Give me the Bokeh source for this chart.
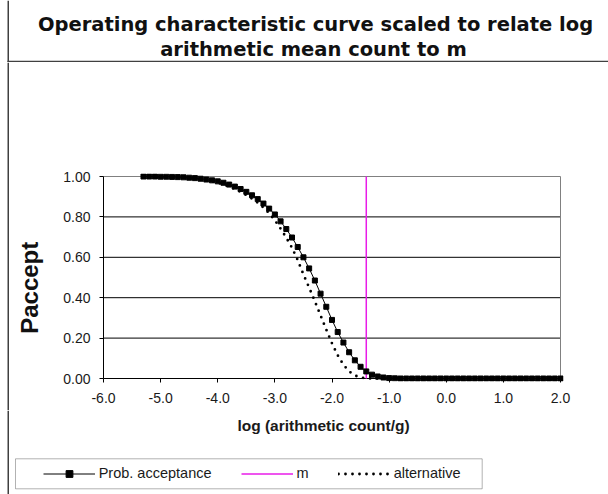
import math
from bokeh.plotting import figure
from bokeh.layouts import column, row
from bokeh.models import (Range1d, FixedTicker, NumeralTickFormatter, Label,
                          Legend, LegendItem, BoxAnnotation)
from bokeh.embed import file_html
from bokeh.resources import INLINE

# ---------------- data ----------------
TITLE_LINES = ["Operating characteristic curve scaled to relate log",
               "arithmetic mean count to m"]
X_LABEL = "log (arithmetic count/g)"
Y_LABEL = "Paccept"
X_TICKS = [-6.0, -5.0, -4.0, -3.0, -2.0, -1.0, 0.0, 1.0, 2.0]
Y_TICKS = [0.0, 0.2, 0.4, 0.6, 0.8, 1.0]
SERIES_NAMES = ["Prob. acceptance", "m", "alternative"]

log_count = [-5.3, -5.2, -5.1, -5.0, -4.9, -4.8, -4.7, -4.6, -4.5, -4.4,
             -4.3, -4.2, -4.1, -4.0, -3.9, -3.8, -3.7, -3.6, -3.5, -3.4,
             -3.3, -3.2, -3.1, -3.0, -2.9, -2.8, -2.7, -2.6, -2.5, -2.4,
             -2.3, -2.2, -2.1, -2.0, -1.9, -1.8, -1.7, -1.6, -1.5, -1.4,
             -1.3, -1.2, -1.1, -1.0, -0.9, -0.8, -0.7, -0.6, -0.5, -0.4,
             -0.3, -0.2, -0.1, 0.0, 0.1, 0.2, 0.3, 0.4, 0.5, 0.6,
             0.7, 0.8, 0.9, 1.0, 1.1, 1.2, 1.3, 1.4, 1.5, 1.6,
             1.7, 1.8, 1.9, 2.0]

p_accept = [1.000, 1.000, 1.000, 0.999, 0.999, 0.998, 0.997, 0.996, 0.994, 0.992,
            0.989, 0.985, 0.981, 0.976, 0.969, 0.960, 0.950, 0.938, 0.924, 0.907,
            0.888, 0.866, 0.841, 0.812, 0.778, 0.740, 0.698, 0.651, 0.600, 0.545,
            0.485, 0.420, 0.355, 0.290, 0.230, 0.178, 0.130, 0.090, 0.058, 0.035,
            0.019, 0.010, 0.005, 0.002, 0.001, 0.000, 0.000, 0.000, 0.000, 0.000,
            0.000, 0.000, 0.000, 0.000, 0.000, 0.000, 0.000, 0.000, 0.000, 0.000,
            0.000, 0.000, 0.000, 0.000, 0.000, 0.000, 0.000, 0.000, 0.000, 0.000,
            0.000, 0.000, 0.000, 0.000]

p_alternative = [1.000, 1.000, 0.999, 0.999, 0.998, 0.997, 0.996, 0.994, 0.992, 0.989,
                 0.986, 0.981, 0.976, 0.969, 0.960, 0.950, 0.938, 0.924, 0.908, 0.890,
                 0.870, 0.846, 0.818, 0.783, 0.742, 0.697, 0.647, 0.586, 0.515, 0.450,
                 0.382, 0.312, 0.242, 0.174, 0.115, 0.068, 0.035, 0.015, 0.005, 0.001,
                 0.000, 0.000, 0.000, 0.000, 0.000, 0.000, 0.000, 0.000, 0.000, 0.000,
                 0.000, 0.000, 0.000, 0.000, 0.000, 0.000, 0.000, 0.000, 0.000, 0.000,
                 0.000, 0.000, 0.000, 0.000, 0.000, 0.000, 0.000, 0.000, 0.000, 0.000,
                 0.000, 0.000, 0.000, 0.000]

m_x = [-1.4, -1.4]
m_y = [0.0, 1.0]

# ---------------- styles ----------------
FONT = "Liberation Sans"
TITLE_FONT = "DejaVu Sans"
EDGE = "#404040"
MAGENTA = "#E81CE8"
DOT_DASH = "0 7"
NAN = float("nan")

W, H = 608, 494
HEADER_H = 62
BOTTOM_H = 84
CHART_H = H - HEADER_H - BOTTOM_H
LEFT_W = 60


def no_frame_align(f):
    if "frame_align" in f.properties():
        f.frame_align = False


def canvas_fig(w, h, y_top):
    """A figure whose plot frame is its whole canvas; data units = page pixels."""
    f = figure(width=w, height=h, x_range=Range1d(0, w),
               y_range=Range1d(y_top + h, y_top),
               output_backend="svg", toolbar_location=None,
               min_border_left=0, min_border_right=0,
               min_border_top=0, min_border_bottom=0,
               x_axis_location=None, y_axis_location=None, title_location=None)
    f.grid.visible = False
    f.outline_line_color = None
    f.background_fill_color = "white"
    f.border_fill_color = "white"
    no_frame_align(f)
    return f


# ---------------- header (title) ----------------
hdr = canvas_fig(W, HEADER_H, 0)
hdr.segment(x0=[7.75, 7], y0=[0, 61], x1=[7.75, W], y1=[HEADER_H, 61],
            line_color=EDGE, line_width=1.5)
hdr.add_layout(Label(x=315, y=24.2, text=TITLE_LINES[0], text_font=TITLE_FONT,
                     text_font_style="bold", text_font_size="19.5px",
                     text_align="center", text_baseline="alphabetic",
                     text_color="#111111"))
hdr.add_layout(Label(x=313, y=48.5, text=TITLE_LINES[1], text_font=TITLE_FONT,
                     text_font_style="bold", text_font_size="19.5px",
                     text_align="center", text_baseline="alphabetic",
                     text_color="#111111"))

# ---------------- left strip (y title) ----------------
lft = canvas_fig(LEFT_W, CHART_H, HEADER_H)
lft.segment(x0=[7.75], y0=[HEADER_H], x1=[7.75], y1=[HEADER_H + CHART_H],
            line_color=EDGE, line_width=1.5)
lft.add_layout(Label(x=29, y=333.3, text=Y_LABEL, text_font=FONT,
                     text_font_style="bold", text_font_size="24px",
                     text_align="left", text_baseline="alphabetic",
                     angle=math.pi / 2, text_color="#111111"))

# ---------------- chart ----------------
FRAME_W, FRAME_H = 463, 208          # 3px slack on each side of the axes box
PAD_X = 3 * (X_TICKS[-1] - X_TICKS[0]) / (FRAME_W - 6)
PAD_Y = 3 * (Y_TICKS[-1] - Y_TICKS[0]) / (FRAME_H - 6)

p = figure(width=W - LEFT_W, height=CHART_H, output_backend="svg",
           toolbar_location=None, title_location=None,
           x_range=Range1d(X_TICKS[0] - PAD_X, X_TICKS[-1] + PAD_X),
           y_range=Range1d(Y_TICKS[0] - PAD_Y, Y_TICKS[-1] + PAD_Y),
           min_border_left=40, min_border_right=45,
           min_border_top=111, min_border_bottom=29)
no_frame_align(p)
p.outline_line_color = None
p.background_fill_color = "white"
p.border_fill_color = "white"
p.xgrid.visible = False
p.ygrid.visible = False

for ax in (p.xaxis[0], p.yaxis[0]):
    ax.axis_line_color = None
    ax.major_tick_line_color = "black"
    ax.major_tick_in = 3
    ax.major_tick_out = 1
    ax.minor_tick_line_color = None
    ax.major_label_text_font = FONT
    ax.major_label_text_font_size = "14px"
    ax.major_label_text_color = "#1a1a1a"
p.xaxis.ticker = FixedTicker(ticks=X_TICKS)
p.yaxis.ticker = FixedTicker(ticks=Y_TICKS)
p.xaxis.formatter = NumeralTickFormatter(format="0.0")
p.yaxis.formatter = NumeralTickFormatter(format="0.00")
p.xaxis.major_label_standoff = 10
p.yaxis.major_label_standoff = 9

inner = Y_TICKS[1:-1]
p.segment(x0=[X_TICKS[0]] * len(inner), x1=[X_TICKS[-1]] * len(inner),
          y0=inner, y1=inner, line_color="black", line_width=1)
p.segment(x0=[X_TICKS[0], X_TICKS[-1]], x1=[X_TICKS[-1], X_TICKS[-1]],
          y0=[Y_TICKS[-1], Y_TICKS[0]], y1=[Y_TICKS[-1], Y_TICKS[-1]],
          line_color="#808080", line_width=1)
p.segment(x0=[X_TICKS[0], X_TICKS[0]], x1=[X_TICKS[-1], X_TICKS[0]],
          y0=[Y_TICKS[0], Y_TICKS[0]], y1=[Y_TICKS[0], Y_TICKS[-1]],
          line_color="black", line_width=1)

p.line(m_x, m_y, line_color=MAGENTA, line_width=1.5)
p.line(log_count, p_alternative, line_color="black", line_width=2.8,
       line_dash=DOT_DASH, line_cap="round")
p.line(log_count, p_accept, line_color="black", line_width=1)
p.scatter(log_count, p_accept, marker="square", size=5,
          fill_color="black", line_color="black")

# ---------------- bottom strip (x title + legend) ----------------
bot = canvas_fig(W, BOTTOM_H, HEADER_H + CHART_H)
bot.segment(x0=[7.75], y0=[HEADER_H + CHART_H], x1=[7.75], y1=[H],
            line_color=EDGE, line_width=1.5)
bot.add_layout(Label(x=323, y=425, text=X_LABEL, text_font=FONT,
                     text_font_style="bold", text_font_size="15.5px",
                     text_align="center", text_baseline="middle",
                     text_color="#1a1a1a"))
bot.add_layout(BoxAnnotation(left=15, right=481.7, top=458.3, bottom=488.3,
                             fill_alpha=0, line_color="black", line_width=1))
# legend keys only (no visible data in this strip)
lg_line = bot.line(x=[NAN], y=[NAN], line_color="black", line_width=1)
lg_pts = bot.scatter(x=[NAN], y=[NAN], marker="square", size=5,
                     fill_color="black", line_color="black")
lg_m = bot.line(x=[NAN], y=[NAN], line_color=MAGENTA, line_width=1.5)
lg_alt = bot.line(x=[NAN], y=[NAN], line_color="black", line_width=2.8,
                  line_dash=DOT_DASH, line_cap="round")
legend = Legend(items=[LegendItem(label=SERIES_NAMES[0], renderers=[lg_line, lg_pts]),
                       LegendItem(label=SERIES_NAMES[1], renderers=[lg_m]),
                       LegendItem(label=SERIES_NAMES[2], renderers=[lg_alt])],
                location=(42.7, 12.2), orientation="horizontal",
                padding=6, spacing=29, glyph_width=52, glyph_height=17,
                label_height=17, label_width=10, label_standoff=4,
                border_line_color=None, background_fill_alpha=0,
                label_text_font=FONT, label_text_font_size="14.5px",
                label_text_color="#1a1a1a")
bot.add_layout(legend, "center")

layout = column(hdr, row(lft, p), bot)
open("out.html", "w").write(file_html(layout, INLINE))
